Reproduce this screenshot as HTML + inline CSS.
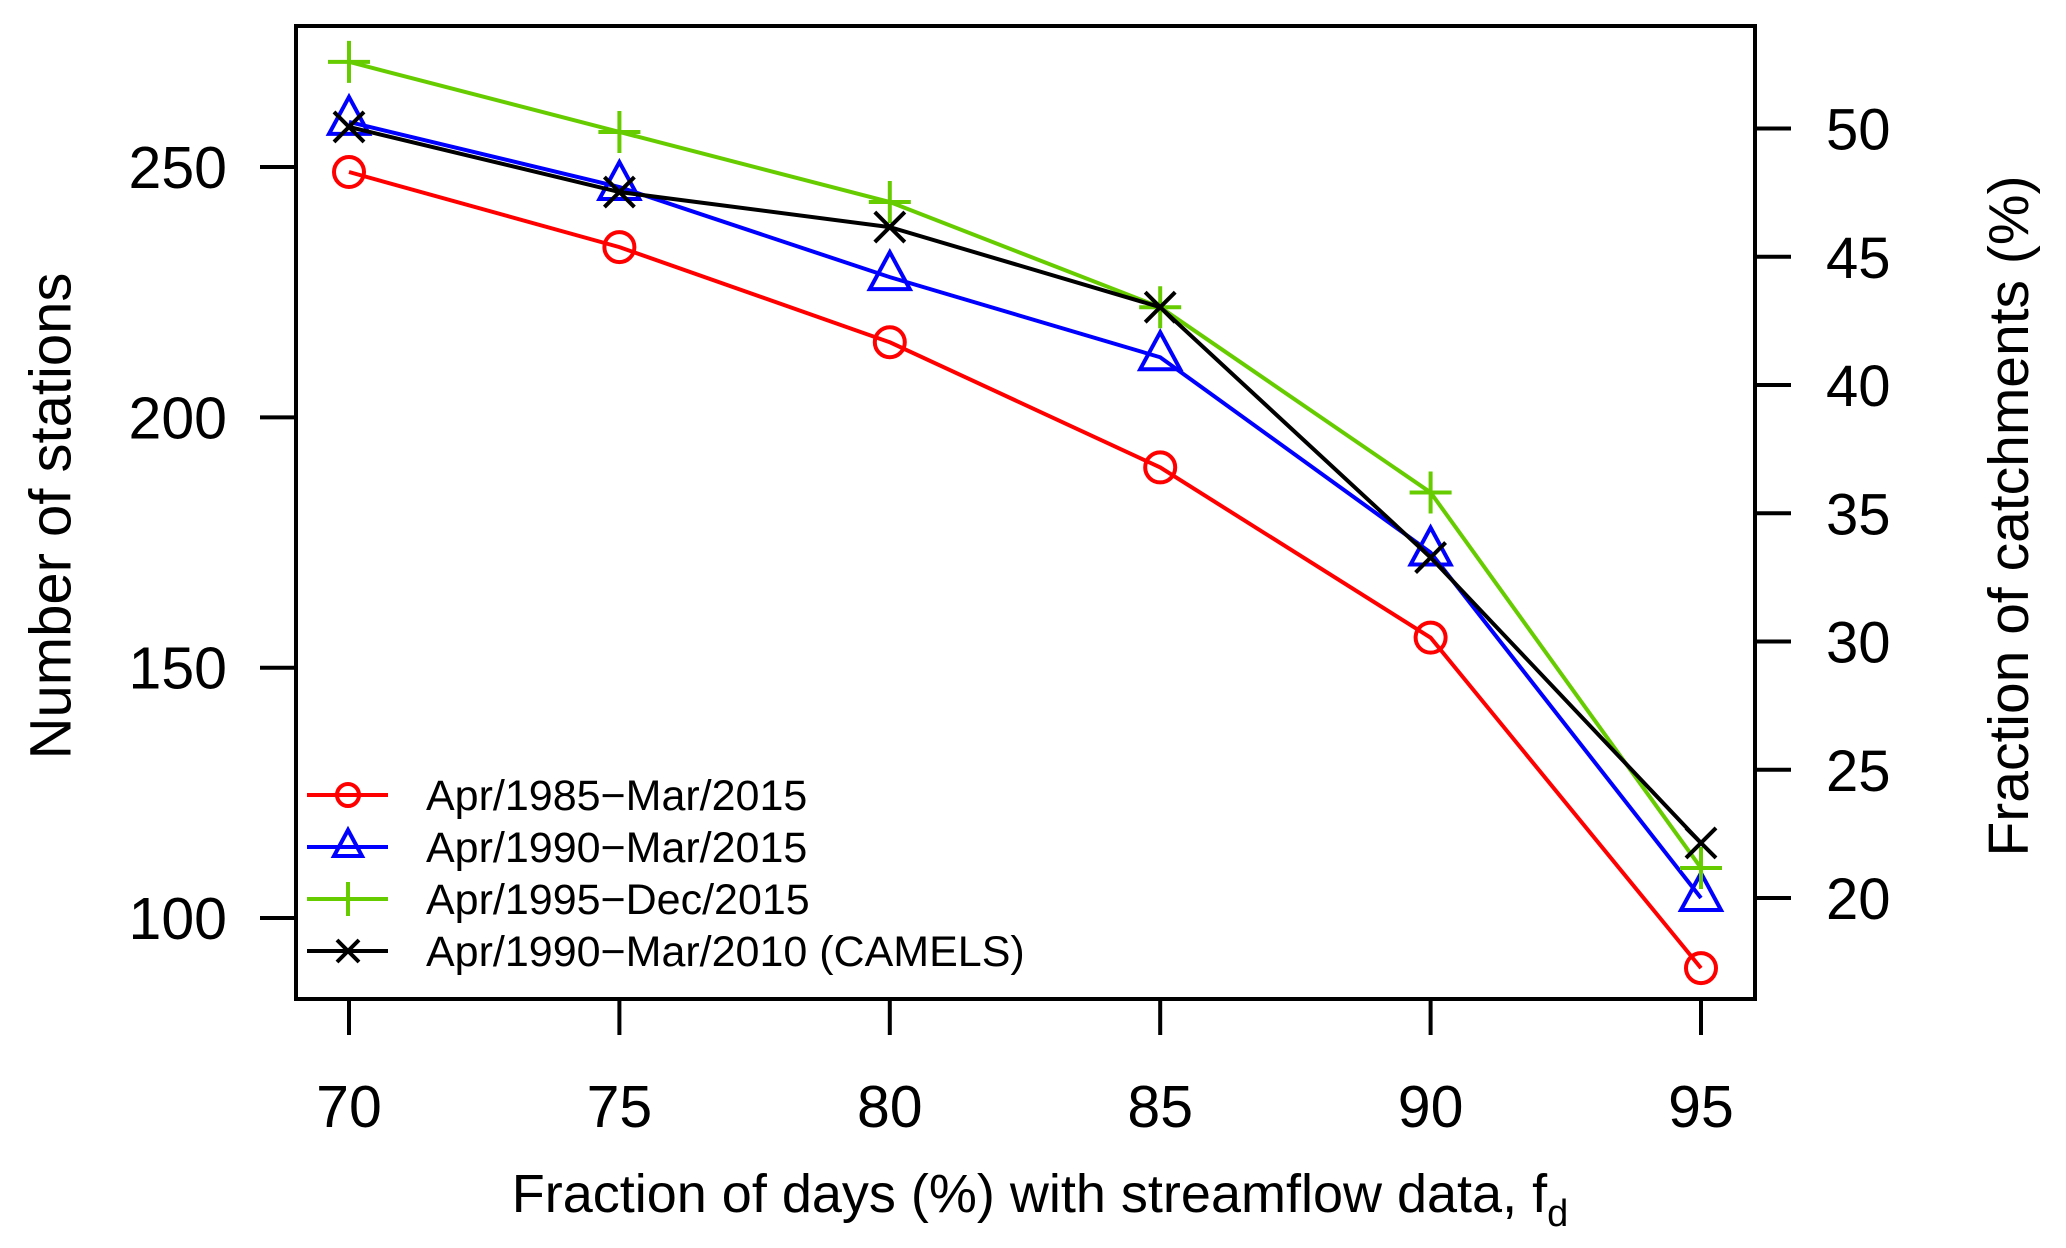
<!DOCTYPE html>
<html><head><meta charset="utf-8"><style>
html,body{margin:0;padding:0;background:#fff;}
svg{display:block;font-family:"Liberation Sans",Arial,sans-serif;}
</style></head><body>
<svg id="chart" width="2066" height="1248" viewBox="0 0 2066 1248" xmlns="http://www.w3.org/2000/svg">
<rect x="296" y="26" width="1459" height="973" fill="none" stroke="#000" stroke-width="4"/>
<g id="axes"></g>
<g id="series"></g>
<g id="legend"></g>
<text x="55" y="516" font-size="58" text-anchor="middle" dominant-baseline="middle" transform="rotate(-90 55 516)">Number of stations</text>
<text x="2013" y="516" font-size="57" text-anchor="middle" dominant-baseline="middle" transform="rotate(-90 2013 516)">Fraction of catchments (%)</text>
<text x="1040" y="1212" font-size="54" text-anchor="middle">Fraction of days (%) with streamflow data, f<tspan font-size="38" dy="14">d</tspan></text>
</svg>
<script>
const xCats = [70, 75, 80, 85, 90, 95];
const yTicks = [100, 150, 200, 250];
const rTicks = [20, 25, 30, 35, 40, 45, 50];
const red = [249, 234, 215, 190, 156, 90];
const blue = [259, 246, 228, 212, 173, 104];
const green = [271, 257, 243, 222, 185, 110];
const black = [258, 245, 238, 222, 172, 115];
const seriesNames = ["Apr/1985\u2212Mar/2015","Apr/1990\u2212Mar/2015","Apr/1995\u2212Dec/2015","Apr/1990\u2212Mar/2010 (CAMELS)"];

const NS="http://www.w3.org/2000/svg";
const xs = v => 349 + (v-70)*54.08;
const ys = v => 167 + (250-v)*5.007;
const yr = v => 898 - (v-20)*25.65;
function mk(tag, attrs, parent){const e=document.createElementNS(NS,tag);for(const k in attrs)e.setAttribute(k,attrs[k]);parent.appendChild(e);return e;}
const axes=document.getElementById('axes');
xCats.forEach(v=>{
  const t=mk('line',{x1:xs(v),x2:xs(v),y1:999,y2:1035,stroke:'#000','stroke-width':4},axes);
  
  
  const l=mk('text',{x:xs(v),y:1127,'font-size':59,'text-anchor':'middle'},axes);l.textContent=v;
  
  
});
yTicks.forEach(v=>{
  const t=mk('line',{x1:260,x2:296,y1:ys(v),y2:ys(v),stroke:'#000','stroke-width':4},axes);
  
  
  const l=mk('text',{x:227,y:ys(v)+21,'font-size':59,'text-anchor':'end'},axes);l.textContent=v;
  
  
});
rTicks.forEach(v=>{
  const t=mk('line',{x1:1755,x2:1791,y1:yr(v),y2:yr(v),stroke:'#000','stroke-width':4},axes);
  
  
  const l=mk('text',{x:1826,y:yr(v)+21,'font-size':58,'text-anchor':'start'},axes);l.textContent=v;
  
  
});
function marker(type,cx,cy,col,g){
  if(type==='circle') return mk('circle',{cx:cx,cy:cy,r:15,fill:'none',stroke:col,'stroke-width':4},g);
  if(type==='tri') return mk('polygon',{points:`${cx},${cy-25} ${cx-20},${cy+12} ${cx+20},${cy+12}`,fill:'none',stroke:col,'stroke-width':4},g);
  if(type==='plus') return mk('path',{d:`M${cx-21},${cy}H${cx+21}M${cx},${cy-21}V${cy+21}`,stroke:col,'stroke-width':4,fill:'none'},g);
  return mk('path',{d:`M${cx-15},${cy-15}L${cx+15},${cy+15}M${cx-15},${cy+15}L${cx+15},${cy-15}`,stroke:col,'stroke-width':4,fill:'none'},g);
}
const defs=[[red,'#ff0000','circle','series-red'],[blue,'#0000ff','tri','series-blue'],[green,'#66cc00','plus','series-green'],[black,'#000000','x','series-black']];
const sg=document.getElementById('series');
defs.forEach(([vals,col,type,name])=>{
  const g=mk('g',{},sg);
  
  
  const p=mk('polyline',{points:vals.map((v,i)=>xs(xCats[i])+','+ys(v)).join(' '),fill:'none',stroke:col,'stroke-width':4},g);
  
  
  vals.forEach((v,i)=>{const m=marker(type,xs(xCats[i]),ys(v),col,g);
    
    });
});
const lg=document.getElementById('legend');
defs.forEach(([vals,col,type,name],i)=>{
  const y=795+i*52;
  const g=mk('g',{},lg);
  
  
  const c=348;
  mk('line',{x1:307,x2:388,y1:y,y2:y,stroke:col,'stroke-width':4},g);
  if(type==='circle') mk('circle',{cx:c,cy:y,r:11,fill:'none',stroke:col,'stroke-width':4},g);
  else if(type==='tri') mk('polygon',{points:`${c},${y-17} ${c-14},${y+9} ${c+14},${y+9}`,fill:'none',stroke:col,'stroke-width':4},g);
  else if(type==='plus') mk('path',{d:`M${c},${y-17}V${y+17}`,stroke:col,'stroke-width':4},g);
  else mk('path',{d:`M${c-11},${y-11}L${c+11},${y+11}M${c-11},${y+11}L${c+11},${y-11}`,stroke:col,'stroke-width':4},g);
  const t=mk('text',{x:426,y:y+15,'font-size':43},g);t.textContent=seriesNames[i];
  
  
});
</script>
</body></html>
